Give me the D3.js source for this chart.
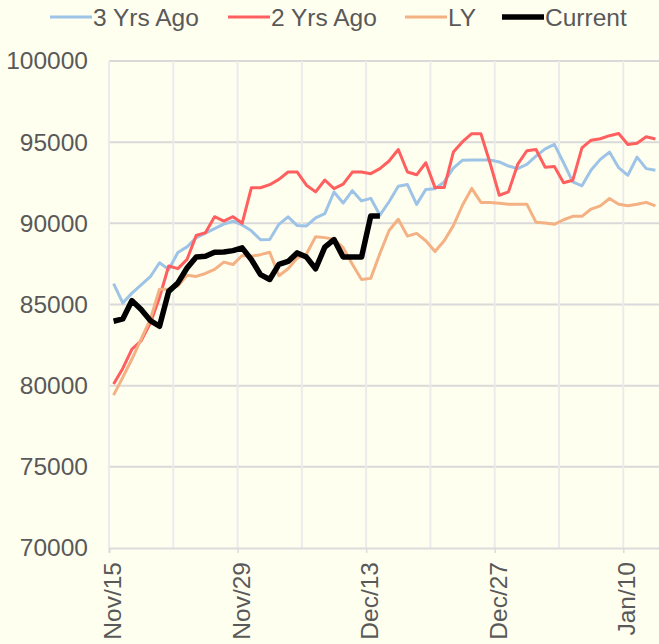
<!DOCTYPE html>
<html>
<head>
<meta charset="utf-8">
<script src="https://cdn.jsdelivr.net/npm/d3@7"></script>
<style>
  html, body { margin: 0; padding: 0; background: #FFFFF0; }
  svg { display: block; }
  text { font-family: "Liberation Sans", Arial, sans-serif; fill: #595959; }
</style>
</head>
<body>
<svg id="chart" width="659" height="644"></svg>
<script>
// daily values, Nov/15 .. Jan/13 (60 days)
const threeYrsAgo = [
    86280, 85100, 85700, 86210, 86710, 87570, 87160, 88200, 88550, 89110,
    89400, 89670, 89950, 90130, 89900, 89540, 88990, 89000, 89940, 90400,
    89860, 89840, 90330, 90600, 91930, 91250, 92010, 91380, 91540, 90500,
    91330, 92280, 92390, 91170, 92090, 92130, 92550, 93400, 93890, 93900,
    93900, 93900, 93780, 93530, 93370, 93630, 94140, 94590, 94860, 93730,
    92550, 92310, 93290, 93940, 94390, 93430, 92960, 94080, 93370, 93270
];
const twoYrsAgo = [
    80100, 81060, 82250, 82760, 83850, 85430, 87370, 87210, 87780, 89260,
    89420, 90410, 90140, 90410, 90000, 92190, 92190, 92380, 92710, 93160,
    93160, 92350, 91940, 92670, 92140, 92410, 93160, 93160, 93060, 93370,
    93840, 94550, 93160, 92990, 93730, 92200, 92200, 94390, 95030, 95520,
    95520, 93700, 91730, 91940, 93630, 94470, 94550, 93450, 93500, 92500,
    92650, 94650, 95120, 95210, 95400, 95530, 94860, 94940, 95330, 95200
];
const lastYear = [
    79420, 80510, 81640, 82870, 84100, 85940, 85940, 86140, 86800, 86730,
    86910, 87160, 87610, 87460, 88020, 87980, 88070, 88220, 86770, 87200,
    87860, 88110, 89180, 89120, 89020, 88500, 87480, 86540, 86610, 88140,
    89560, 90250, 89210, 89380, 88930, 88260, 88930, 89860, 91130, 92150,
    91290, 91290, 91240, 91180, 91180, 91180, 90060, 90020, 89940, 90220,
    90430, 90430, 90880, 91080, 91530, 91180, 91080, 91180, 91290, 91080
];
const current = [
    83970, 84110, 85240, 84690, 84010, 83660, 85810, 86330, 87250, 87930,
    87970, 88220, 88240, 88320, 88490, 87770, 86840, 86540, 87470, 87650,
    88180, 87920, 87200, 88530, 89000, 87920, 87920, 87920, 90450, 90450
];
const dayCount = 60;
const tickLabels = ["Nov/15", "Nov/29", "Dec/13", "Dec/27", "Jan/10"];
const yTicks = [70000, 75000, 80000, 85000, 90000, 95000, 100000];

const series = [
    { name: "3 Yrs Ago", values: threeYrsAgo, color: "#9DC3E6", width: 3 },
    { name: "2 Yrs Ago", values: twoYrsAgo, color: "#FF5F5F", width: 3 },
    { name: "LY", values: lastYear, color: "#F4B183", width: 3 },
    { name: "Current", values: current, color: "#000000", width: 5.5 }
];

const svg = d3.select("#chart");

const x = d3.scaleLinear().domain([0, dayCount]).range([109, 660]);
const y = d3.scaleLinear().domain([70000, 100000]).range([548, 61]);

// horizontal gridlines
svg.append("g")
    .selectAll("line")
    .data(yTicks.slice(1))
    .enter()
    .append("line")
    .attr("x1", x(0)).attr("x2", x(dayCount))
    .attr("y1", d => y(d)).attr("y2", d => y(d))
    .style("stroke", "#D9D9D9")
    .style("stroke-width", 2);

// vertical gridlines, one per week
const weekTicks = d3.range(0, dayCount, 7);
svg.append("g")
    .selectAll("line")
    .data(weekTicks)
    .enter()
    .append("line")
    .attr("x1", d => x(d)).attr("x2", d => x(d))
    .attr("y1", y(100000)).attr("y2", y(70000))
    .style("stroke", "#EBEBEB")
    .style("stroke-width", 2);

// y axis
const yAxis = svg.append("g")
    .attr("transform", `translate(${x(0)},0)`)
    .call(d3.axisLeft(y).tickValues(yTicks).tickSize(0).tickPadding(21).tickFormat(d3.format("d")));
yAxis.select(".domain").remove();
yAxis.selectAll("text")
    .style("font-size", "24.5px")
    .style("fill", "#595959")
    .style("font-family", "'Liberation Sans', Arial, sans-serif");

// x axis, labelled every two weeks
const labelTicks = d3.range(0, dayCount, 14);
const xAxis = svg.append("g")
    .attr("transform", `translate(0,${y(70000)})`)
    .call(d3.axisBottom(x).tickValues(labelTicks).tickSize(5).tickFormat((d, i) => tickLabels[i]));
xAxis.select(".domain").style("stroke", "#DCDCDC").style("stroke-width", 2);
xAxis.selectAll(".tick line").style("stroke", "#DCDCDC").style("stroke-width", 1.5);
xAxis.selectAll("text")
    .style("font-size", "24.5px")
    .style("fill", "#595959")
    .style("font-family", "'Liberation Sans', Arial, sans-serif")
    .attr("text-anchor", "end")
    .attr("transform", "rotate(-90)")
    .attr("x", -14)
    .attr("y", 3)
    .attr("dy", "0.35em");

// lines
const line = d3.line()
    .x((d, i) => x(i + 0.5))
    .y(d => y(d));

svg.append("g")
    .selectAll("path")
    .data(series)
    .enter()
    .append("path")
    .attr("d", d => line(d.values))
    .style("fill", "none")
    .style("stroke", d => d.color)
    .style("stroke-width", d => d.width)
    .style("stroke-linejoin", "round");

// legend
const legendX = [50, 228, 405, 502];
const legend = svg.append("g")
    .selectAll("g")
    .data(series)
    .enter()
    .append("g")
    .attr("transform", (d, i) => `translate(${legendX[i]},17)`);
legend.append("line")
    .attr("x1", 0).attr("x2", 42)
    .style("stroke", d => d.color)
    .style("stroke-width", d => d.width);
legend.append("text")
    .attr("x", 43)
    .attr("dy", "0.35em")
    .style("font-size", "24.5px")
    .text(d => d.name);
</script>
</body>
</html>
